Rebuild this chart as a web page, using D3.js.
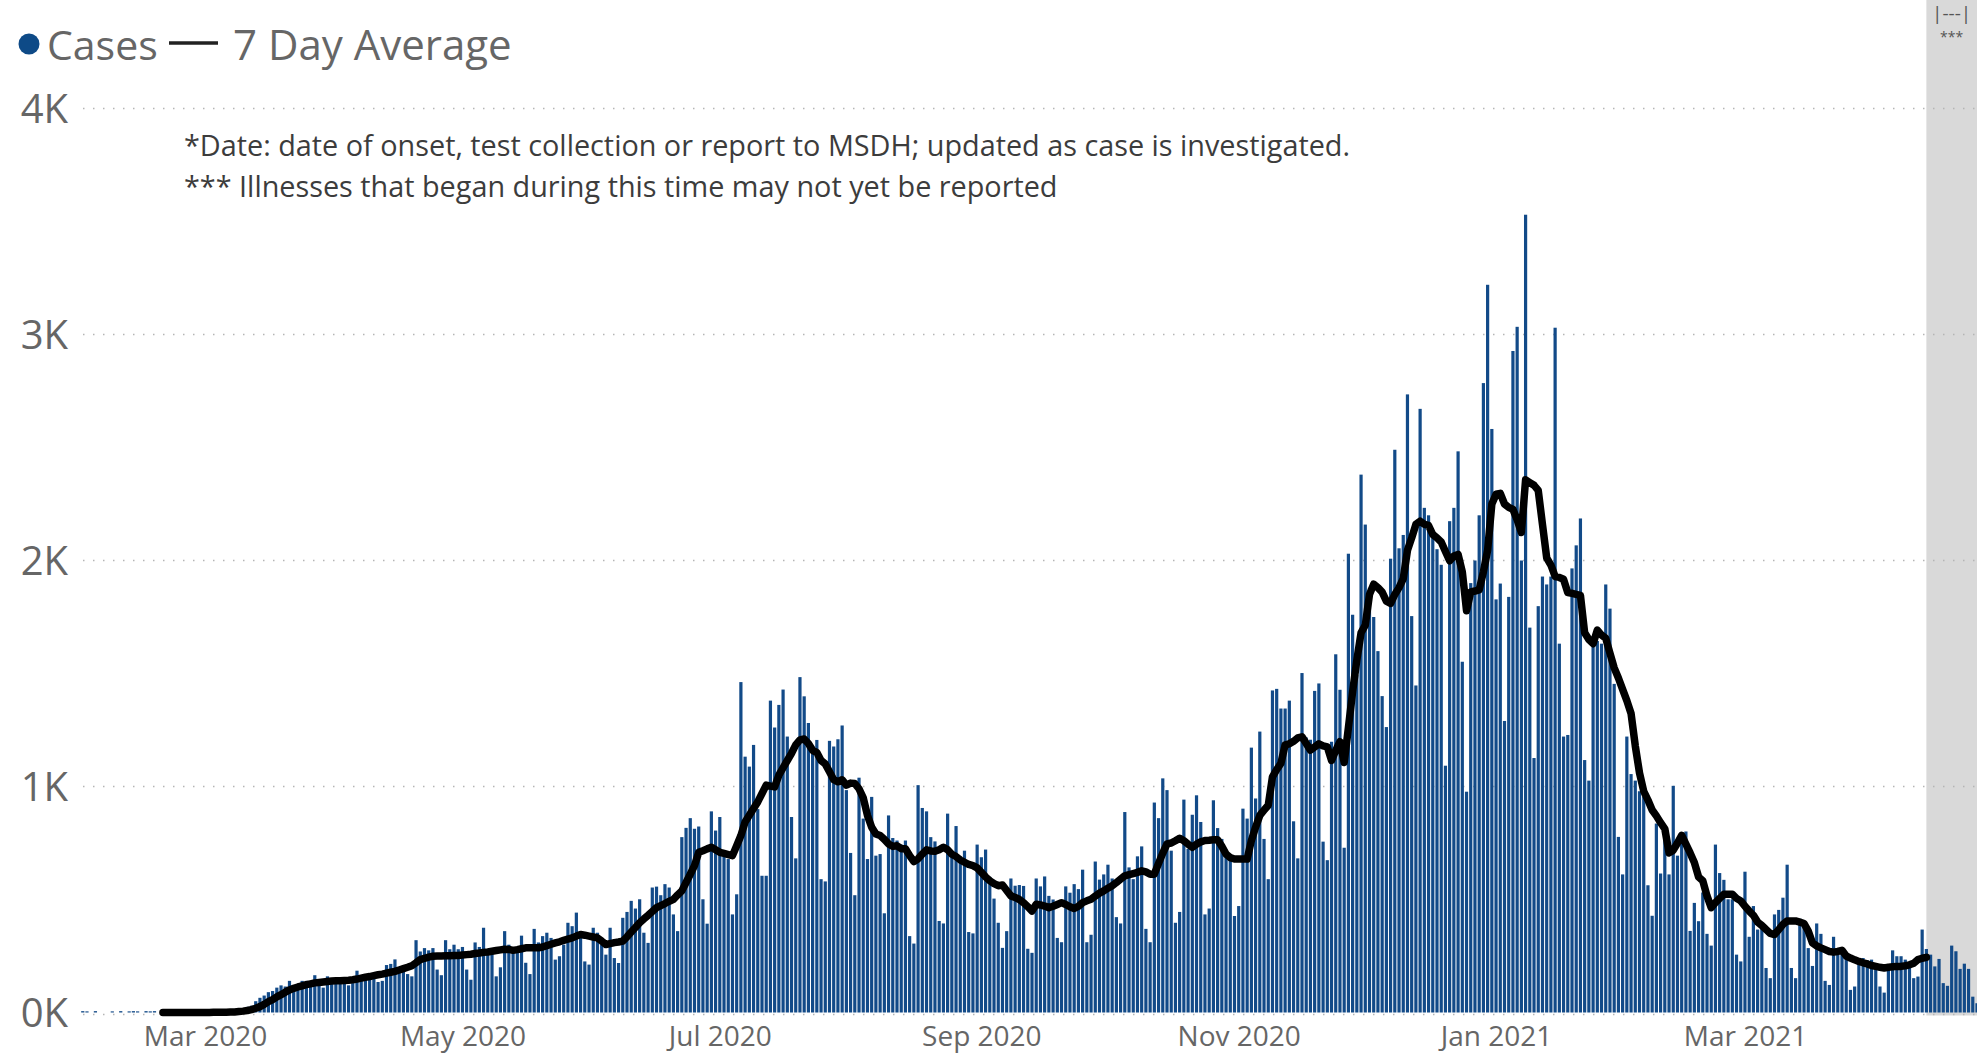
<!DOCTYPE html>
<html>
<head>
<meta charset="utf-8">
<script src="https://cdn.jsdelivr.net/npm/d3@7"></script>
<style>
	body { margin: 0; background: #fff; }
	svg { display: block; font-family: "Open Sans", "Noto Sans", sans-serif; }
</style>
</head>
<body>
<div id="chart"></div>
<script>
// <!-- ================================= -->
// <!-- DATA -->
// <!-- ================================= -->

// daily cases, one value per day starting at casesStart
var casesStart = "2020-02-01";
var cases = [
	// Feb 2020
	6, 5, 0, 6, 0, 0, 0, 5, 0, 6, 0, 5, 6, 5, 0, 6, 5, 6, 0, 1, 0, 0, 1, 0, 1, 0, 1, 0, 1,
	// Mar 2020
	1, 0, 1, 1, 2, 2, 3, 4, 10, 15, 25, 30, 50, 65, 75, 90, 95, 110, 120, 115, 140, 120, 110, 140, 140, 130, 165, 120, 110, 160, 150,
	// Apr 2020
	145, 150, 150, 120, 130, 185, 160, 165, 170, 165, 135, 140, 210, 215, 235, 195, 200, 170, 160, 320, 270, 285, 275, 285, 190, 165, 320, 280, 300, 280,
	// May 2020
	290, 190, 145, 310, 290, 375, 260, 260, 160, 200, 360, 300, 285, 285, 340, 220, 170, 370, 310, 338, 353, 330, 234, 249, 300, 397, 382, 442, 353, 226, 212,
	// Jun 2020
	375, 353, 300, 256, 375, 241, 219, 419, 445, 494, 460, 501, 353, 308, 553, 557, 519, 568, 553, 434, 360, 776, 817, 860, 813, 823, 501, 393, 890, 805,
	// Jul 2020
	865, 709, 679, 434, 523, 1462, 1132, 1088, 1184, 900, 605, 605, 1380, 1261, 1361, 1429, 1221, 865, 682, 1484, 1399, 1281, 1180, 1206, 590, 580, 1202, 1177, 1209, 1270, 984,
	// Aug 2020
	706, 519, 1039, 858, 679, 954, 694, 701, 439, 872, 772, 761, 743, 761, 338, 305, 1006, 905, 890, 776, 757, 405, 394, 880, 700, 825, 690, 716, 356, 350, 743,
	// Sep 2020
	687, 721, 600, 504, 397, 286, 360, 593, 561, 564, 560, 282, 264, 593, 558, 602, 516, 500, 330, 311, 558, 530, 568, 546, 632, 311, 344, 668, 588, 611,
	// Oct 2020
	654, 593, 422, 394, 887, 642, 590, 691, 735, 370, 311, 929, 860, 1036, 984, 716, 397, 445, 942, 724, 875, 961, 843, 434, 460, 939, 816, 768, 709, 672, 427,
	// Nov 2020
	471, 902, 858, 1172, 947, 1243, 768, 590, 1425, 1432, 1345, 1345, 1380, 846, 682, 1502, 1217, 1207, 1423, 1456, 756, 674, 1198, 1585, 1428, 729, 2030, 1760, 1493, 2380,
	// Dec 2020
	2159, 1879, 1750, 1599, 1400, 1263, 2008, 2490, 2054, 2113, 2735, 1754, 1447, 2671, 2233, 2200, 2110, 2050, 1981, 1092, 2174, 2233, 2483, 1552, 977, 1900, 2000, 2200, 2785, 3220, 2582,
	// Jan 2021
	1828, 1898, 1290, 1839, 2927, 3034, 2000, 3530, 1703, 1126, 1798, 1929, 1894, 1929, 3030, 1632, 1221, 1228, 1965, 2067, 2186, 1117, 1026, 1620, 1644, 1632, 1894, 1787, 1454, 777, 611,
	// Feb 2021
	1221, 1055, 1026, 979, 955, 563, 428, 836, 615, 817, 611, 1003, 694, 753, 801, 361, 485, 404, 531, 348, 296, 743, 617, 587, 501, 501, 256, 226,
	// Mar 2021
	623, 335, 471, 367, 370, 197, 152, 434, 454, 508, 654, 197, 152, 415, 375, 285, 206, 394, 348, 140, 122, 335, 281, 275, 241, 100, 115, 222, 241, 231, 234,
	// Apr 2021
	204, 115, 88, 204, 275, 249, 249, 234, 204, 152, 159, 367, 281, 256, 204, 237, 130, 118, 296, 271, 193, 216, 193, 70, 41
];

// 7 day average, one value per day starting at avgStart
var avgStart = "2020-02-20";
var avg7 = [
	// Feb 2020
	0, 0, 0, 0, 0, 0, 0, 0, 0, 0,
	// Mar 2020
	0, 0, 1, 1, 1, 1, 2, 2, 4, 6, 9, 13, 19, 26, 36, 48, 57, 69, 79, 90, 100, 107, 113, 118, 123, 127, 131, 133, 135, 137, 139,
	// Apr 2020
	140, 141, 142, 143, 145, 148, 152, 156, 159, 163, 167, 170, 174, 178, 182, 188, 194, 200, 207, 220, 234, 240, 245, 249, 250, 250, 251, 251, 252, 252,
	// May 2020
	254, 256, 258, 261, 263, 266, 268, 271, 274, 277, 280, 279, 275, 278, 282, 286, 286, 286, 286, 290, 296, 302, 308, 313, 319, 325, 330, 338, 345, 342, 338,
	// Jun 2020
	334, 330, 316, 301, 305, 309, 312, 316, 335, 356, 376, 397, 414, 430, 447, 464, 473, 482, 492, 501, 520, 538, 575, 612, 650, 709, 716, 724, 731, 720,
	// Jul 2020
	709, 704, 699, 694, 738, 783, 843, 873, 903, 932, 969, 1006, 1002, 998, 1050, 1083, 1115, 1147, 1184, 1206, 1210, 1190, 1160, 1150, 1115, 1100, 1065, 1030, 1021, 1030, 1006,
	// Aug 2020
	1015, 1013, 990, 950, 872, 820, 790, 783, 766, 746, 735, 738, 725, 725, 694, 668, 680, 701, 720, 715, 713, 720, 731, 720, 700, 690, 675, 665, 655, 650, 640,
	// Sep 2020
	620, 600, 583, 570, 561, 564, 540, 516, 509, 500, 486, 468, 449, 479, 476, 471, 464, 470, 478, 486, 478, 468, 460, 470, 486, 494, 501, 515, 528, 538,
	// Oct 2020
	550, 561, 575, 590, 605, 610, 615, 620, 627, 622, 612, 612, 660, 705, 746, 750, 760, 771, 760, 745, 731, 745, 755, 761, 762, 764, 764, 735, 701, 685, 679,
	// Nov 2020
	679, 679, 679, 761, 820, 872, 895, 917, 1043, 1075, 1102, 1184, 1189, 1200, 1215, 1220, 1190, 1161, 1175, 1189, 1180, 1175, 1115, 1160, 1198, 1106, 1260, 1420, 1560, 1680,
	// Dec 2020
	1714, 1850, 1895, 1880, 1860, 1820, 1810, 1850, 1880, 1920, 2045, 2100, 2160, 2174, 2160, 2155, 2115, 2100, 2082, 2040, 1999, 2020, 2027, 1950, 1778, 1861, 1865, 1870, 1950, 2045, 2250,
	// Jan 2021
	2293, 2297, 2250, 2235, 2226, 2180, 2124, 2357, 2345, 2333, 2310, 2160, 2012, 1980, 1929, 1925, 1917, 1858, 1855, 1850, 1846, 1680, 1650, 1632, 1692, 1670, 1656, 1590, 1525, 1480, 1430,
	// Feb 2021
	1380, 1323, 1180, 1060, 979, 940, 896, 870, 840, 813, 706, 718, 750, 784, 745, 706, 664, 600, 583, 516, 464, 486, 505, 523, 523, 523, 505, 494,
	// Mar 2021
	470, 449, 430, 400, 385, 367, 350, 345, 367, 390, 405, 405, 405, 400, 394, 360, 308, 295, 286, 278, 270, 267, 270, 275, 250, 241, 233, 226, 220, 215, 208,
	// Apr 2021
	204, 200, 197, 200, 202, 204, 204, 207, 211, 218, 234, 240, 244
];

var xTickDates = ["2020-03-01", "2020-05-01", "2020-07-01", "2020-09-01", "2020-11-01", "2021-01-01", "2021-03-01"];
var xTickLabels = ["Mar 2020", "May 2020", "Jul 2020", "Sep 2020", "Nov 2020", "Jan 2021", "Mar 2021"];
var yTicks = [0, 1000, 2000, 3000, 4000];
var yTickLabels = ["0K", "1K", "2K", "3K", "4K"];
var legendLabels = ["Cases", "7 Day Average"];
var notes = [
	"*Date: date of onset, test collection or report to MSDH; updated as case is investigated.",
	"*** Illnesses that began during this time may not yet be reported"
];
var pendingStart = "2021-04-13"; // grey band: recent days not yet complete
var pendingLabels = ["|---|", "***"];

// <!-- ================================= -->
// <!-- CHART -->
// <!-- ================================= -->
var width = 1977;
var height = 1057;

var parse = d3.timeParse("%Y-%m-%d");
var barColor = "#124a88";
var textColor = "#666666";

var casesData = cases.map(function (v, i) {
	return { date: d3.timeDay.offset(parse(casesStart), i), value: v };
});
var avgData = avg7.map(function (v, i) {
	return { date: d3.timeDay.offset(parse(avgStart), i), value: v };
});

var x = d3.scaleTime()
	.domain([new Date(2020, 0, 28, 12), new Date(2021, 3, 25)])
	.range([68, width]);

var y = d3.scaleLinear()
	.domain([0, 4000])
	.range([1012.5, 108.5]);

var svg = d3.select('#chart')
	.append('svg')
	.attr('width', width)
	.attr('height', height);

// grey band at the right
var bandX = x(parse(pendingStart));
svg.append('rect')
	.attr('x', bandX)
	.attr('y', 0)
	.attr('width', width - bandX)
	.attr('height', y(0) + 3)
	.attr('fill', '#d9d9d9');

// dotted gridlines
svg.selectAll('.grid')
	.data(yTicks)
	.enter()
	.append('line')
	.attr('class', 'grid')
	.attr('x1', 83)
	.attr('x2', width)
	.attr('y1', function (d) { return d === 0 ? y(d) + 2 : y(d); })
	.attr('y2', function (d) { return d === 0 ? y(d) + 2 : y(d); })
	.attr('stroke', '#b5b5b5')
	.attr('stroke-width', 1.5)
	.attr('stroke-dasharray', '1.5,8.5');

// bars
var step = x(new Date(2020, 5, 2)) - x(new Date(2020, 5, 1));
var barW = step * 0.76;

svg.selectAll('.bar')
	.data(casesData)
	.enter()
	.append('rect')
	.attr('class', 'bar')
	.attr('x', function (d) { return x(d.date) - barW / 2; })
	.attr('y', function (d) { return y(d.value); })
	.attr('width', barW)
	.attr('height', function (d) { return y(0) - y(d.value); })
	.attr('fill', barColor);

// 7 day average line
var line = d3.line()
	.x(function (d) { return x(d.date); })
	.y(function (d) { return y(d.value); });

svg.append('path')
	.datum(avgData)
	.attr('d', line)
	.attr('fill', 'none')
	.attr('stroke', '#000')
	.attr('stroke-width', 7.5)
	.attr('stroke-linejoin', 'round')
	.attr('stroke-linecap', 'round');

// x axis
var xAxis = d3.axisBottom(x)
	.tickValues(xTickDates.map(parse))
	.tickFormat(function (d, i) { return xTickLabels[i]; })
	.tickSize(0)
	.tickPadding(0);

var gx = svg.append('g')
	.attr('transform', 'translate(0,1046)')
	.call(xAxis);
gx.select('.domain').remove();
gx.selectAll('text')
	.attr('dy', 0)
	.attr('font-size', 28)
	.attr('font-family', '"Open Sans", sans-serif')
	.attr('fill', textColor);

// y axis
var yAxis = d3.axisLeft(y)
	.tickValues(yTicks)
	.tickFormat(function (d, i) { return yTickLabels[i]; })
	.tickSize(0)
	.tickPadding(0);

var gy = svg.append('g')
	.attr('transform', 'translate(68,0)')
	.call(yAxis);
gy.select('.domain').remove();
gy.selectAll('text')
	.attr('dy', '0.36em')
	.attr('font-size', 40)
	.attr('font-family', '"Open Sans", sans-serif')
	.attr('fill', textColor);

// legend
svg.append('circle')
	.attr('cx', 29)
	.attr('cy', 44)
	.attr('r', 10.5)
	.attr('fill', '#0e4a87');

svg.append('text')
	.attr('x', 47)
	.attr('y', 60)
	.attr('font-size', 41)
	.attr('fill', textColor)
	.text(legendLabels[0]);

svg.append('line')
	.attr('x1', 169)
	.attr('x2', 218)
	.attr('y1', 43)
	.attr('y2', 43)
	.attr('stroke', '#222')
	.attr('stroke-width', 3.5);

svg.append('text')
	.attr('x', 233)
	.attr('y', 60)
	.attr('font-size', 42)
	.attr('fill', textColor)
	.text(legendLabels[1]);

// notes
svg.selectAll('.note')
	.data(notes)
	.enter()
	.append('text')
	.attr('class', 'note')
	.attr('x', 184)
	.attr('y', function (d, i) { return 156 + i * 41; })
	.attr('font-size', 28.8)
	.attr('fill', '#3c3c3c')
	.text(function (d) { return d; });

// labels at the top of the grey band
svg.selectAll('.pending')
	.data(pendingLabels)
	.enter()
	.append('text')
	.attr('class', 'pending')
	.attr('x', bandX + (width - bandX) / 2)
	.attr('y', function (d, i) { return i === 0 ? 20 : 42; })
	.attr('text-anchor', 'middle')
	.attr('font-size', function (d, i) { return i === 0 ? 19 : 14; })
	.attr('fill', '#555')
	.text(function (d) { return d; });
</script>
</body>
</html>
